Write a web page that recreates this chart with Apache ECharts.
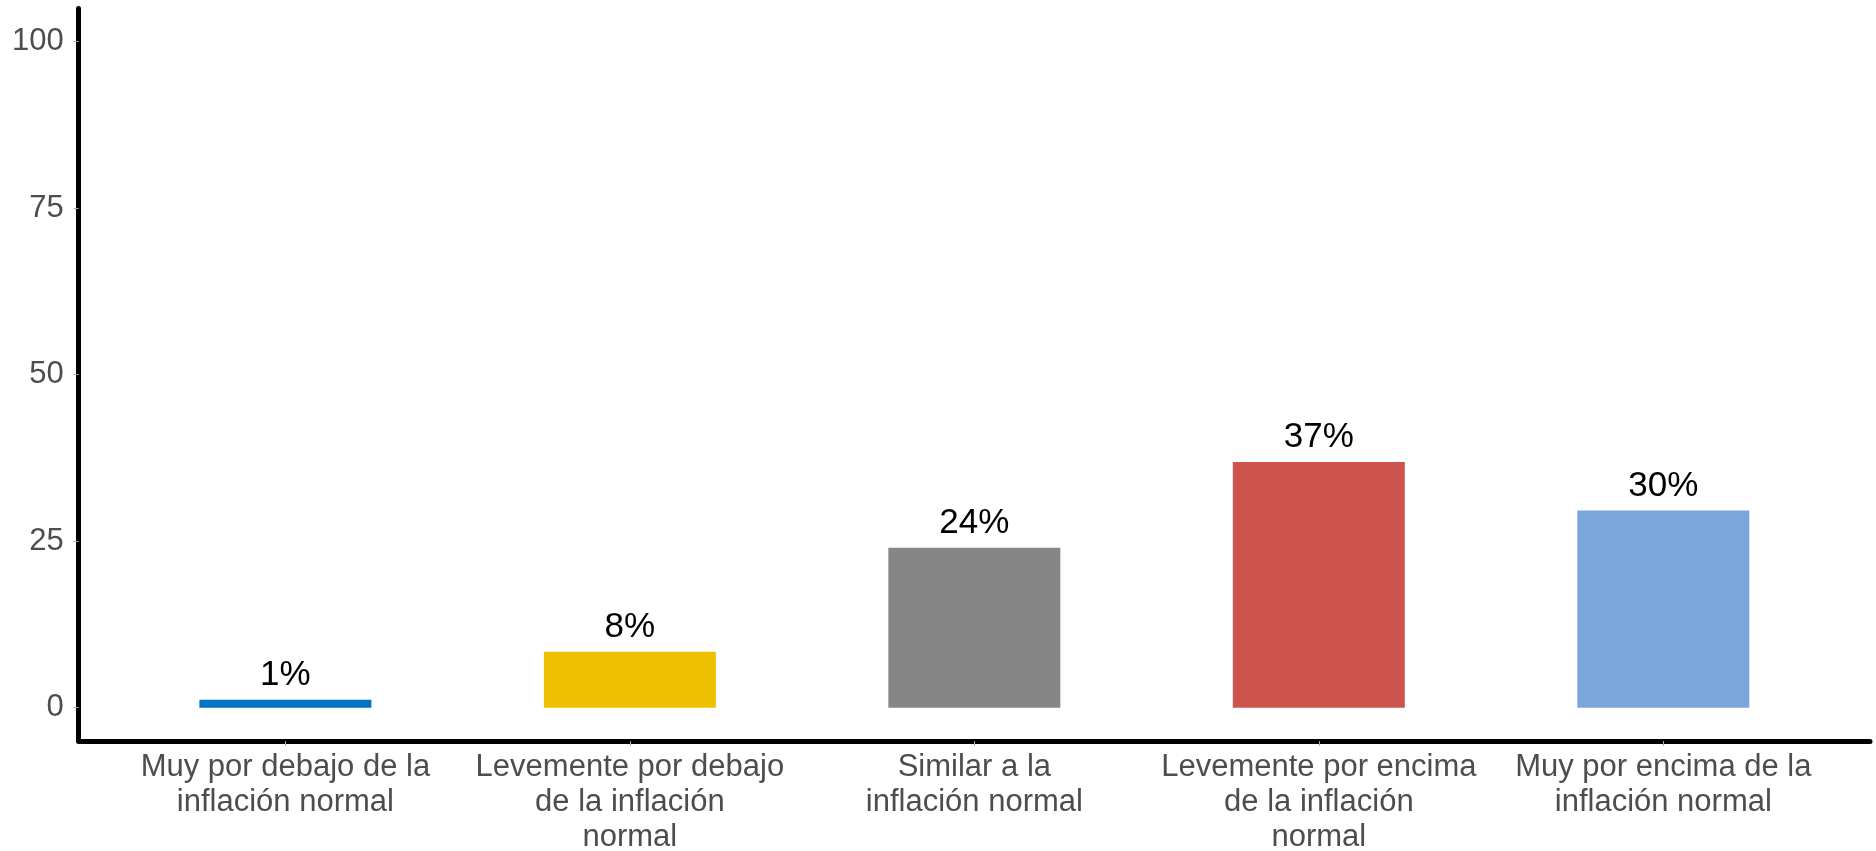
<!DOCTYPE html>
<html>
<head>
<meta charset="utf-8">
<script src="https://cdn.jsdelivr.net/npm/echarts@6/dist/echarts.min.js"></script>
<style>
  html, body { margin: 0; padding: 0; background: #ffffff; }
  #chart { width: 1876px; height: 851px; }
</style>
</head>
<body>
<div id="chart"></div>
<script>
// Expectations of inflation, share of responses (%)
const categories = [
  'Muy por debajo de la inflación normal',
  'Levemente por debajo de la inflación normal',
  'Similar a la inflación normal',
  'Levemente por encima de la inflación normal',
  'Muy por encima de la inflación normal'
];
const shares = [1.2, 8.4, 24.0, 36.9, 29.6];
const barColors = ['#0073C2', '#EFC000', '#868686', '#CD534C', '#7AA6DC'];
const yTicks = [0, 25, 50, 75, 100];
const categoryPositions = categories.map((_, i) => i);

// wrap a label into lines of at most n characters, breaking on spaces
function wrap(text, n) {
  const words = text.split(' ');
  const lines = [];
  let cur = '';
  words.forEach(w => {
    if (cur === '') cur = w;
    else if ((cur + ' ' + w).length <= n) cur += ' ' + w;
    else { lines.push(cur); cur = w; }
  });
  if (cur) lines.push(cur);
  return lines.join('\n');
}

const chart = echarts.init(document.getElementById('chart'), null, { renderer: 'canvas' });

chart.setOption({
  backgroundColor: '#ffffff',
  animation: false,
  grid: { left: 78.7, right: 6, top: 8.4, bottom: 110, containLabel: false, outerBoundsMode: 'none' },
  xAxis: {
    type: 'value',
    min: -0.6,
    max: 4.6,
    splitLine: { show: false },
    axisLine: { show: true, onZero: false, lineStyle: { color: '#000000', width: 5 } },
    axisTick: { show: true, customValues: categoryPositions, length: 5, lineStyle: { color: '#aaaaaa', width: 1 } },
    axisLabel: {
      customValues: categoryPositions,
      formatter: v => wrap(categories[Math.round(v)], 20),
      fontFamily: 'Liberation Sans, Arial, sans-serif',
      fontSize: 31,
      lineHeight: 35,
      color: '#4d4d4d',
      margin: 9,
      align: 'center'
    }
  },
  yAxis: {
    type: 'value',
    min: -5,
    max: 105,
    splitLine: { show: false },
    axisLine: { show: true, onZero: false, lineStyle: { color: '#000000', width: 5 } },
    axisTick: { show: true, customValues: yTicks, length: 5, lineStyle: { color: '#aaaaaa', width: 1 } },
    axisLabel: {
      customValues: yTicks,
      fontFamily: 'Liberation Sans, Arial, sans-serif',
      fontSize: 31,
      color: '#4d4d4d',
      margin: 15
    }
  },
  series: [{
    type: 'bar',
    barWidth: 172,
    data: shares.map((v, i) => ({
      value: [categoryPositions[i], v],
      itemStyle: { color: barColors[i] }
    })),
    label: {
      show: true,
      position: 'top',
      distance: 7,
      formatter: p => Math.round(p.value[1]) + '%',
      fontFamily: 'Liberation Sans, Arial, sans-serif',
      fontSize: 35,
      color: '#000000'
    }
  }]
});
</script>
</body>
</html>
